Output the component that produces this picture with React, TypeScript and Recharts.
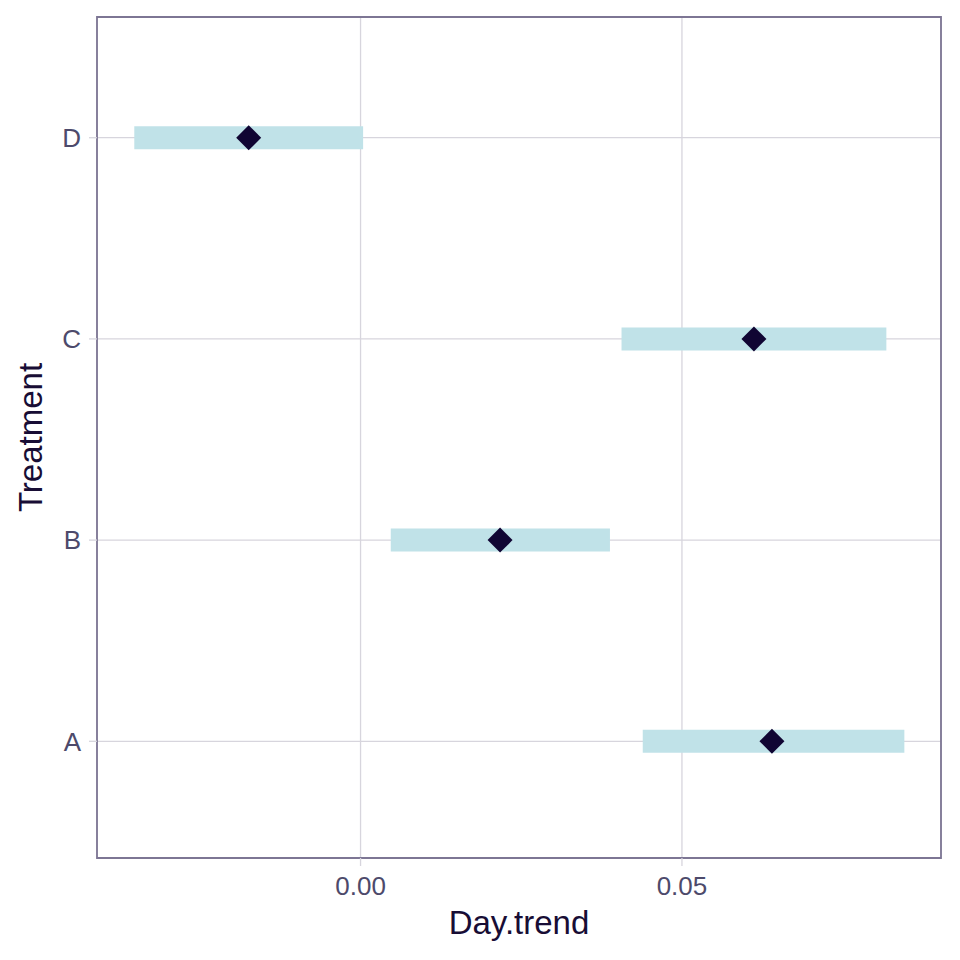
import {
  ScatterChart,
  Scatter,
  XAxis,
  YAxis,
  CartesianGrid,
  ReferenceArea,
  Label,
} from "recharts";

// Day.trend estimates with their intervals, one row per treatment
const treatments = ["A", "B", "C", "D"];
const estimate = [0.064, 0.0217, 0.0612, -0.0174];
const lower = [0.0439, 0.0047, 0.0406, -0.0352];
const upper = [0.0846, 0.0388, 0.0818, 0.0004];

const xTicks = [0, 0.05];
const xDomain: [number, number] = [-0.041, 0.0903];
const yDomain: [number, number] = [0.42, 4.6];

const BAND = "#c0e2e8";
const DOT = "#100533";
const FRAME = "#7d7694";
const GRID = "#d7d5dd";
const TICK_TEXT = "#4d4a6b";
const TITLE = "#180d35";
const FONT = "'Liberation Sans', Arial, sans-serif";

const points = treatments.map((t, i) => ({ x: estimate[i], y: i + 1, name: t }));
const intervals = treatments.map((t, i) => [
  { x: lower[i], y: i + 1 },
  { x: upper[i], y: i + 1 },
]);

const Diamond = (props: any) => {
  const { cx, cy } = props;
  const r = 12.5;
  return (
    <polygon
      points={`${cx},${cy - r} ${cx + r},${cy} ${cx},${cy + r} ${cx - r},${cy}`}
      fill={DOT}
    />
  );
};

export default function App() {
  return (
    <div style={{ position: "absolute", left: 0, top: 0, fontFamily: FONT }}>
      <ScatterChart
        width={960}
        height={960}
        margin={{ top: 17, right: 19, bottom: 0, left: 0 }}
      >
        <CartesianGrid stroke={GRID} strokeWidth={1.3} />
        <XAxis
          type="number"
          dataKey="x"
          domain={xDomain}
          ticks={xTicks}
          allowDataOverflow
          tickFormatter={(v: number) => v.toFixed(2)}
          height={102}
          tickSize={8}
          tickMargin={11}
          axisLine={false}
          tickLine={{ stroke: GRID, strokeWidth: 1.3 }}
          tick={{ fill: TICK_TEXT, fontSize: 26, fontFamily: FONT }}
        >
          <Label
            content={({ viewBox }: any) => (
              <text
                x={viewBox.x + viewBox.width / 2}
                y={viewBox.y + 76}
                textAnchor="middle"
                fill={TITLE}
                fontSize={33}
                fontFamily={FONT}
              >
                Day.trend
              </text>
            )}
          />
        </XAxis>
        <YAxis
          type="number"
          dataKey="y"
          domain={yDomain}
          ticks={[1, 2, 3, 4]}
          allowDataOverflow
          tickFormatter={(v: number) => treatments[v - 1]}
          width={97}
          tickSize={8}
          tickMargin={8}
          axisLine={false}
          tickLine={{ stroke: GRID, strokeWidth: 1.3 }}
          tick={{ fill: TICK_TEXT, fontSize: 26, fontFamily: FONT }}
        >
          <Label
            content={({ viewBox }: any) => {
              const x = viewBox.x + 42;
              const y = viewBox.y + viewBox.height / 2;
              return (
                <text
                  x={x}
                  y={y}
                  transform={`rotate(-90 ${x} ${y})`}
                  textAnchor="middle"
                  fill={TITLE}
                  fontSize={33}
                  fontFamily={FONT}
                >
                  Treatment
                </text>
              );
            }}
          />
        </YAxis>
        {intervals.map((seg, i) => (
          <Scatter
            key={treatments[i]}
            data={seg}
            line={{ stroke: BAND, strokeWidth: 23 }}
            shape={() => <g />}
            isAnimationActive={false}
          />
        ))}
        <Scatter data={points} shape={Diamond} isAnimationActive={false} />
        <ReferenceArea
          x1={xDomain[0]}
          x2={xDomain[1]}
          y1={yDomain[0]}
          y2={yDomain[1]}
          fill="none"
          stroke={FRAME}
          strokeWidth={1.8}
          ifOverflow="visible"
        />
      </ScatterChart>
    </div>
  );
}
